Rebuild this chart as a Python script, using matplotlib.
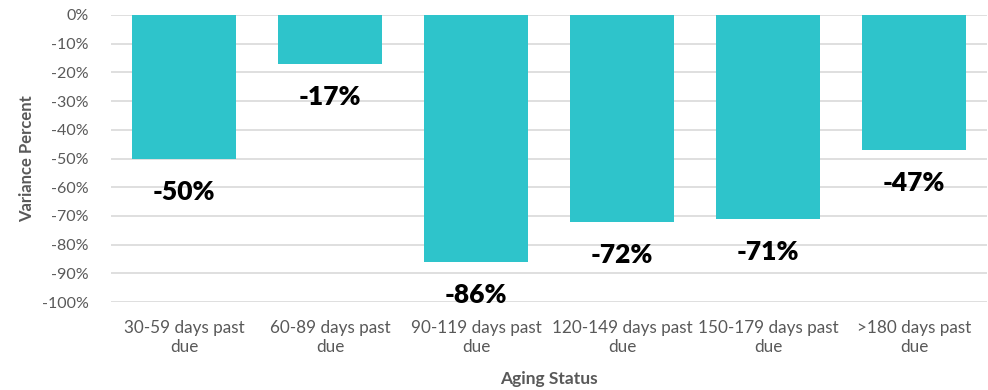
import matplotlib.pyplot as plt
import numpy as np

categories = ['30-59 days past\ndue', '60-89 days past\ndue', '90-119 days past\ndue',
              '120-149 days past\ndue', '150-179 days past\ndue', '>180 days past\ndue']
variance = [-50, -17, -86, -72, -71, -47]
y_ticks = list(range(0, -101, -10))

plt.rcParams['font.family'] = ['Lato', 'DejaVu Sans']

fig = plt.figure(figsize=(9.88, 3.9), dpi=100)
ax = fig.add_axes([111 / 988, 1 - 302 / 390, 876 / 988, 287 / 390])

x = np.arange(len(categories))
bars = ax.bar(x, variance, width=0.71, color='#2EC4CB', zorder=3)

for b, v in zip(bars, variance):
    ax.annotate('%d%%' % v, (b.get_x() + b.get_width() / 2, v),
                xytext=(0, -33), textcoords='offset pixels',
                ha='center', va='center', fontsize=19, fontweight='heavy', color='black')

ax.set_xlim(-0.5, len(categories) - 0.5)
ax.set_ylim(-100, 0)
ax.set_yticks(y_ticks)
ax.set_yticklabels(['%d%%' % t for t in y_ticks])
ax.set_xticks(x)
ax.set_xticklabels(categories)
ax.grid(axis='y', color='#D9D9D9', linewidth=1.2, zorder=0)
ax.tick_params(axis='both', length=0, colors='#595959')
ax.tick_params(axis='x', pad=13, labelsize=12.3)
ax.tick_params(axis='y', pad=16, labelsize=11.5)
for s in ax.spines.values():
    s.set_visible(False)

ax.set_xlabel('Aging Status', fontsize=12.5, fontweight='bold', color='#595959', labelpad=12)
ax.set_ylabel('Variance Percent', fontsize=12, fontweight='bold', color='#595959', labelpad=5)

fig.savefig('out.png', dpi=100)
